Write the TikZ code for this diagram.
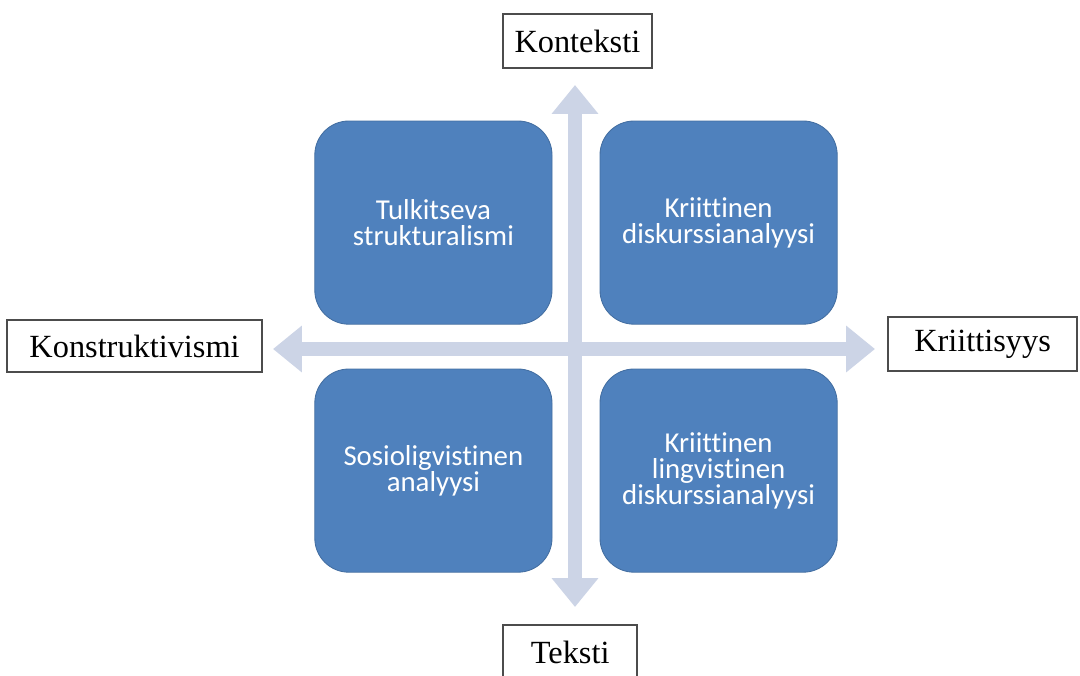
\documentclass[tikz,border=0pt]{standalone}
\usepackage{fontspec}
\setmainfont{Liberation Serif}
\newfontfamily\boxfont[Ligatures=CommonOff]{Carlito}
\usepackage{xcolor}
\usepackage{tikz}
\usetikzlibrary{arrows.meta, positioning}

\definecolor{quadblue}{RGB}{79,129,189}
\definecolor{axisgray}{RGB}{204,212,230}

\begin{document}
\begin{tikzpicture}[
    every node/.style={font=\fontsize{23}{26}\selectfont},
    quad/.style={rectangle, rounded corners=0.85cm, fill=quadblue,
      draw=quadblue!85!black, line width=0.6pt, text=white,
      minimum width=5.93cm, minimum height=5.08cm, align=center,
      font=\boxfont\fontsize{20.5}{18.5}\selectfont},
    axislabel/.style={rectangle, draw=black!70, line width=1.2pt, fill=white,
      minimum height=1.35cm, inner sep=0pt},
    axisarrow/.style={draw=axisgray, line width=0.33cm,
      {Triangle[length=0.72cm, width=1.12cm]}-{Triangle[length=0.72cm, width=1.12cm]}}
  ]

  % frame: 1080 x 675 px at 40 px per cm, cross at the origin
  \useasboundingbox (-14.375, -8.15) rectangle (12.625, 8.725);

  % ── Axes ────────────────────────────────────────────────────────────────
  \coordinate (up)    at (0,  6.6);
  \coordinate (down)  at (0, -6.45);
  \coordinate (left)  at (-7.55, 0);
  \coordinate (right) at ( 7.5,  0);

  \draw[axisarrow] (down) -- (up);
  \draw[axisarrow] (left) -- (right);

  % ── Quadrants ───────────────────────────────────────────────────────────
  \node[quad] (tl) at (-3.54,  3.16) {Tulkitseva\\strukturalismi};
  \node[quad] (tr) at ( 3.59,  3.16) {Kriittinen\\diskurssianalyysi};
  \node[quad] (bl) at (-3.54, -3.04) {Sosioligvistinen\\analyysi};
  \node[quad] (br) at ( 3.59, -3.04) {Kriittinen\\lingvistinen\\diskurssianalyysi};

  % ── Axis labels ─────────────────────────────────────────────────────────
  \node[axislabel, minimum width=3.73cm] (konteksti) at (0.06, 7.7) {Konteksti};
  \node[axislabel, minimum width=3.35cm] (teksti) at (-0.12, -7.58) {Teksti};
  \node[axislabel, minimum width=6.38cm, minimum height=1.3cm]
    (konstruktivismi) at (-11.01, 0.07) {Konstruktivismi};
  \node[axislabel, minimum width=4.73cm] (kriittisyys) at (10.19, 0.12) {Kriittisyys};

\end{tikzpicture}
\end{document}
